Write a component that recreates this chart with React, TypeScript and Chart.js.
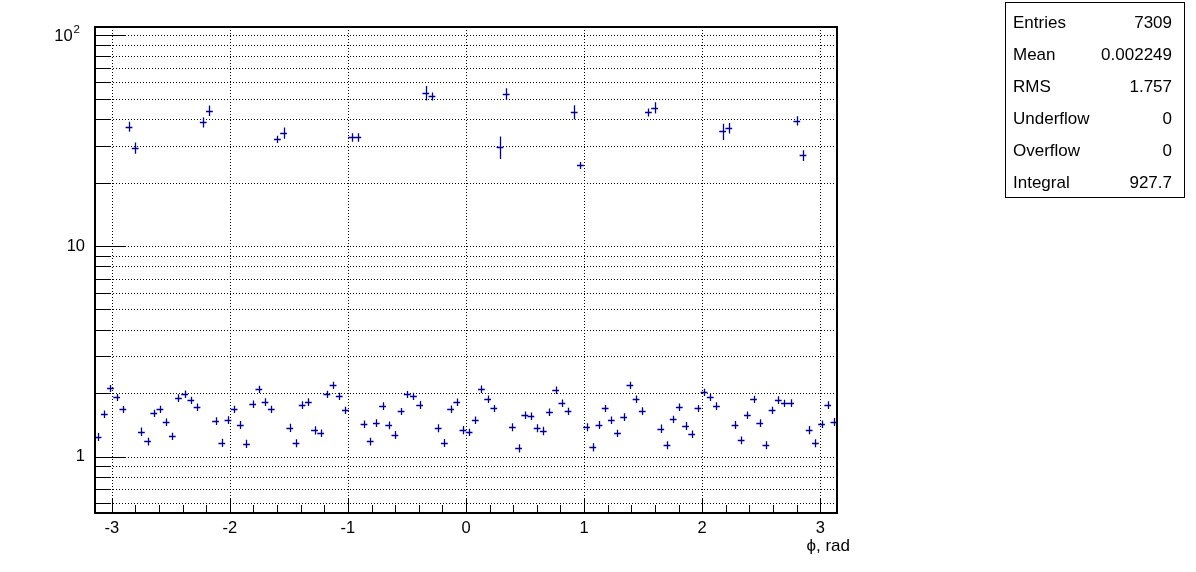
import React, { useEffect, useRef } from "react";
import { Chart, registerables } from "chart.js";

Chart.register(...registerables);

const X_MIN = -Math.PI;
const X_MAX = Math.PI;
const Y_MIN = 0.54;
const Y_MAX = 109.6;

const binValues = [
  1.245, 1.595, 2.11, 1.915, 1.68, 36.9, 29.2, 1.315, 1.18, 1.61,
  1.685, 1.456, 1.25, 1.906, 1.99, 1.853, 1.72, 38.6, 43.9, 1.478,
  1.166, 1.494, 1.685, 1.415, 1.153, 1.779, 2.09, 1.825, 1.685, 32.2,
  34.4, 1.374, 1.158, 1.76, 1.825, 1.335, 1.296, 1.985, 2.19, 1.94,
  1.667, 32.8, 32.8, 1.426, 1.18, 1.446, 1.74, 1.41, 1.272, 1.643,
  1.979, 1.94, 1.766, 53.3, 51.3, 1.364, 1.162, 1.69, 1.819, 1.339,
  1.306, 1.489, 2.097, 1.88, 1.698, 29.5, 52.7, 1.379, 1.096, 1.578,
  1.561, 1.364, 1.325, 1.631, 2.074, 1.8, 1.648, 43.3, 24.3, 1.379,
  1.108, 1.415, 1.698, 1.489, 1.292, 1.549, 2.19, 1.88, 1.654, 43.1,
  45.4, 1.359, 1.133, 1.505, 1.72, 1.399, 1.282, 1.698, 2.023, 1.915,
  1.74, 35.0, 36.3, 1.415, 1.196, 1.578, 1.874, 1.446, 1.133, 1.667,
  1.867, 1.794, 1.805, 39.3, 26.9, 1.339, 1.158, 1.426, 1.76, 1.466,
];

const binErrors = [
  0.05, 0.06, 0.08, 0.07, 0.06, 2.0, 1.8, 0.06, 0.05, 0.06,
  0.06, 0.06, 0.05, 0.07, 0.07, 0.07, 0.07, 2.1, 2.5, 0.06,
  0.05, 0.06, 0.06, 0.06, 0.05, 0.07, 0.08, 0.07, 0.06, 1.2,
  2.1, 0.06, 0.05, 0.07, 0.07, 0.06, 0.05, 0.07, 0.08, 0.07,
  0.06, 1.5, 1.5, 0.06, 0.05, 0.06, 0.07, 0.06, 0.05, 0.06,
  0.07, 0.07, 0.07, 4.2, 2.2, 0.06, 0.05, 0.06, 0.07, 0.06,
  0.05, 0.06, 0.08, 0.07, 0.06, 3.6, 3.4, 0.06, 0.05, 0.06,
  0.06, 0.06, 0.06, 0.06, 0.08, 0.07, 0.06, 3.3, 0.7, 0.06,
  0.05, 0.06, 0.06, 0.06, 0.05, 0.06, 0.08, 0.07, 0.06, 1.9,
  2.8, 0.06, 0.05, 0.06, 0.07, 0.06, 0.05, 0.06, 0.08, 0.07,
  0.07, 3.1, 2.1, 0.06, 0.05, 0.06, 0.07, 0.06, 0.05, 0.06,
  0.07, 0.07, 0.07, 2.0, 1.6, 0.06, 0.05, 0.06, 0.07, 0.06,
];

const xTickValues = [-3, -2, -1, 0, 1, 2, 3];
const xTickLabels = ["-3", "-2", "-1", "0", "1", "2", "3"];
const xMinorStep = 0.2;
const yMajorTicks = [1, 10, 100];
const yMinorTicks = [0.6, 0.7, 0.8, 0.9, 2, 3, 4, 5, 6, 7, 8, 9, 20, 30, 40, 50, 60, 70, 80, 90];
const xAxisTitle = "ϕ, rad";
const statNames = ["Entries", "Mean", "RMS", "Underflow", "Overflow", "Integral"];
const statValues = ["7309", "0.002249", "1.757", "0", "0", "927.7"];

const MARKER_COLOR = "#000099";
const FONT = "Liberation Sans, Arial, Helvetica, sans-serif";

const nBins = binValues.length;
const binWidth = (X_MAX - X_MIN) / nBins;

const rootPlugin = {
  id: "rootStyle",
  beforeDatasetsDraw(chart: any) {
    const { ctx, chartArea: a, scales } = chart;
    const x = scales.x;
    const y = scales.y;
    ctx.save();
    ctx.strokeStyle = "#000";
    ctx.lineWidth = 1;
    ctx.setLineDash([1, 2]);
    ctx.beginPath();
    for (const v of xTickValues) {
      const px = Math.round(x.getPixelForValue(v)) + 0.5;
      ctx.moveTo(px, a.top);
      ctx.lineTo(px, a.bottom);
    }
    for (const v of [...yMajorTicks, ...yMinorTicks]) {
      const py = Math.round(y.getPixelForValue(v)) + 0.5;
      ctx.moveTo(a.left, py);
      ctx.lineTo(a.right, py);
    }
    ctx.stroke();
    ctx.restore();
  },
  afterDatasetsDraw(chart: any) {
    const { ctx, scales } = chart;
    const x = scales.x;
    const y = scales.y;
    const ds = chart.data.datasets[0];
    ctx.save();
    ctx.strokeStyle = MARKER_COLOR;
    ctx.lineWidth = 1.3;
    ctx.beginPath();
    ds.data.forEach((p: any, i: number) => {
      const e = ds.errors[i];
      const lo = x.getPixelForValue(p.x - binWidth / 2) - 0.3;
      const hi = x.getPixelForValue(p.x + binWidth / 2) + 0.3;
      const cx = Math.round(x.getPixelForValue(p.x)) + 0.5;
      const cy = Math.round(y.getPixelForValue(p.y)) + 0.5;
      const top = Math.min(y.getPixelForValue(p.y + e), cy - 3.5);
      const bot = Math.max(y.getPixelForValue(p.y - e), cy + 3.5);
      ctx.moveTo(lo, cy);
      ctx.lineTo(hi, cy);
      ctx.moveTo(cx, top);
      ctx.lineTo(cx, bot);
    });
    ctx.stroke();
    ctx.restore();
  },
  afterDraw(chart: any) {
    const { ctx, chartArea: a, scales } = chart;
    const x = scales.x;
    const y = scales.y;
    ctx.save();
    ctx.strokeStyle = "#000";
    ctx.setLineDash([]);
    ctx.lineWidth = 1;
    ctx.beginPath();
    for (const v of yMajorTicks) {
      const py = Math.round(y.getPixelForValue(v)) + 0.5;
      ctx.moveTo(a.left, py);
      ctx.lineTo(a.left + 31, py);
    }
    for (const v of yMinorTicks) {
      const py = Math.round(y.getPixelForValue(v)) + 0.5;
      ctx.moveTo(a.left, py);
      ctx.lineTo(a.left + 15, py);
    }
    for (const v of xTickValues) {
      const px = Math.round(x.getPixelForValue(v)) + 0.5;
      ctx.moveTo(px, a.bottom);
      ctx.lineTo(px, a.bottom - 15);
    }
    for (let k = -15; k <= 15; k++) {
      const v = k * xMinorStep;
      if (v < X_MIN || v > X_MAX) continue;
      const px = Math.round(x.getPixelForValue(v)) + 0.5;
      ctx.moveTo(px, a.bottom);
      ctx.lineTo(px, a.bottom - 8);
    }
    ctx.stroke();
    ctx.lineWidth = 2;
    ctx.strokeRect(a.left, a.top, a.right - a.left, a.bottom - a.top);

    ctx.fillStyle = "#000";
    ctx.font = `16.5px ${FONT}`;
    ctx.textBaseline = "middle";
    ctx.textAlign = "center";
    xTickValues.forEach((v, i) => {
      ctx.fillText(xTickLabels[i], x.getPixelForValue(v), a.bottom + 15);
    });
    ctx.font = `17px ${FONT}`;
    ctx.textAlign = "right";
    ctx.fillText(xAxisTitle, a.right + 13, a.bottom + 33);

    yMajorTicks.forEach((v) => {
      const py = y.getPixelForValue(v);
      const exp = Math.round(Math.log10(v));
      if (exp <= 1) {
        ctx.font = `16.5px ${FONT}`;
        ctx.textAlign = "right";
        ctx.fillText(String(v), a.left - 10, py);
      } else {
        ctx.font = `11.5px ${FONT}`;
        ctx.textAlign = "right";
        const supW = ctx.measureText(String(exp)).width;
        ctx.fillText(String(exp), a.left - 15, py - 6);
        ctx.font = `16.5px ${FONT}`;
        ctx.fillText("10", a.left - 15 - supW - 1, py + 1);
      }
    });

    const bx = 1005.5, by = 2.5, bw = 179, bh = 195;
    ctx.fillStyle = "#fff";
    ctx.fillRect(bx, by, bw, bh);
    ctx.lineWidth = 1;
    ctx.strokeRect(bx, by, bw, bh);
    ctx.fillStyle = "#000";
    ctx.font = `17px ${FONT}`;
    statNames.forEach((n, i) => {
      const ry = 23 + i * 32;
      ctx.textAlign = "left";
      ctx.fillText(n, 1013, ry);
      ctx.textAlign = "right";
      ctx.fillText(statValues[i], 1172, ry);
    });
    ctx.restore();
  },
};

export default function App() {
  const ref = useRef<HTMLCanvasElement | null>(null);
  useEffect(() => {
    if (!ref.current) return;
    const points = binValues.map((v, i) => ({ x: X_MIN + (i + 0.5) * binWidth, y: v }));
    const chart = new Chart(ref.current, {
      type: "scatter",
      data: {
        datasets: [
          {
            data: points,
            errors: binErrors,
            pointRadius: 0,
            pointHoverRadius: 0,
            showLine: false,
          } as any,
        ],
      },
      options: {
        animation: false,
        responsive: false,
        devicePixelRatio: 1,
        events: [],
        layout: { padding: { left: 95, top: 27, right: 359, bottom: 59 } },
        plugins: { legend: { display: false }, tooltip: { enabled: false } },
        scales: {
          x: { type: "linear", min: X_MIN, max: X_MAX, display: false },
          y: { type: "logarithmic", min: Y_MIN, max: Y_MAX, display: false },
        },
      },
      plugins: [rootPlugin],
    });
    return () => chart.destroy();
  }, []);
  return (
    <div style={{ position: "absolute", left: 0, top: 0, width: 1196, height: 572, background: "#fff" }}>
      <canvas ref={ref} width={1196} height={572} style={{ width: 1196, height: 572 }} />
    </div>
  );
}
